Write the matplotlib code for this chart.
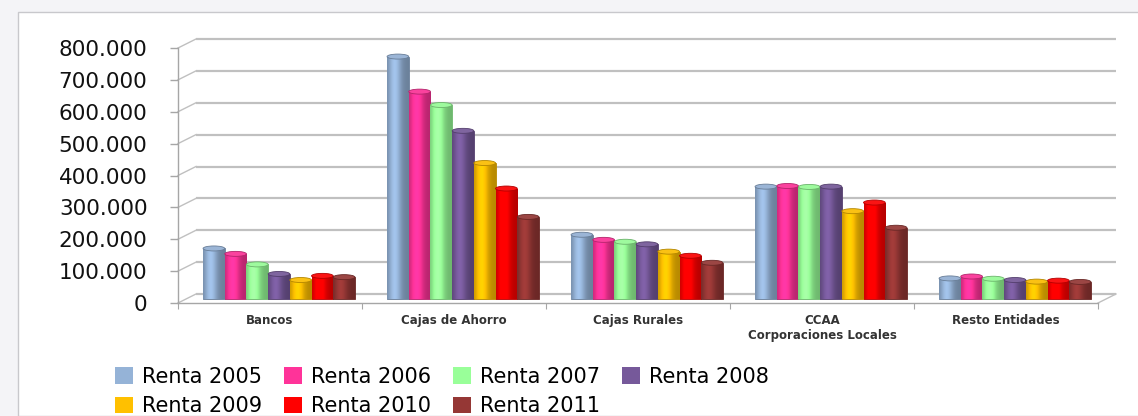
import numpy as np
import matplotlib
matplotlib.use("Agg")
import matplotlib.pyplot as plt
from matplotlib.patches import Ellipse, Patch, Rectangle
from matplotlib.colors import to_rgb

# data
categories = ["Bancos", "Cajas de Ahorro", "Cajas Rurales",
              "CCAA\nCorporaciones Locales", "Resto Entidades"]
series_names = ["Renta 2005", "Renta 2006", "Renta 2007", "Renta 2008",
                "Renta 2009", "Renta 2010", "Renta 2011"]
renta_2005 = [157000, 759000, 200000, 351000, 63000]
renta_2006 = [140000, 649000, 184000, 353000, 69000]
renta_2007 = [107000, 607000, 178000, 350000, 62000]
renta_2008 = [77000, 526000, 170000, 351000, 58000]
renta_2009 = [58000, 425000, 147000, 274000, 53000]
renta_2010 = [71000, 345000, 134000, 301000, 56000]
renta_2011 = [67000, 256000, 112000, 222000, 52000]
y_ticks = [0, 100000, 200000, 300000, 400000, 500000, 600000, 700000, 800000]
y_tick_labels = ["0", "100.000", "200.000", "300.000", "400.000",
                 "500.000", "600.000", "700.000", "800.000"]

series = [renta_2005, renta_2006, renta_2007, renta_2008,
          renta_2009, renta_2010, renta_2011]
colors = ["#95B3D7", "#FF3399", "#99FF99", "#76599A",
          "#FFC000", "#FF0000", "#953735"]

W, H = 1138, 416
fig = plt.figure(figsize=(W / 100, H / 100), dpi=100)
fig.patch.set_facecolor("#f4f4f7")
# white chart area with a thin frame
fig.patches.append(Rectangle((18 / W, 0), 1.2, (H - 12) / H, transform=fig.transFigure,
                             facecolor="white", edgecolor="#c8c8cc", lw=1.0, zorder=-1))

# front plane of the plot
ax = fig.add_axes([178 / W, (H - 303) / H, 920 / W, 255 / H])
ax.set_zorder(1)
ax.set_facecolor("none")
ymax = 800000
n_cat = len(categories)

# depth of the pseudo 3D box, in data units
DX = 18 / 184
DY = 9 * ymax / 255

grid_c = "#c0c0c0"
# back wall gridlines + side wall diagonals
for v in y_ticks:
    ax.plot([DX, n_cat + DX], [v + DY, v + DY], color=grid_c, lw=1.6,
            clip_on=False, zorder=1, solid_capstyle="butt")
    ax.plot([0, DX], [v, v + DY], color=grid_c, lw=1.0, clip_on=False, zorder=1)
# right floor edge
ax.plot([n_cat, n_cat + DX], [0, DY], color=grid_c, lw=1.0, clip_on=False, zorder=1)

# bars (cylinder look)
bw = 21.7 / 184
x = np.arange(n_cat)
for j, (vals, c) in enumerate(zip(series, colors)):
    xs = x + 0.5 + (j - 3) * bw + DX / 2
    rgb = np.array(to_rgb(c))
    dark = tuple(rgb * 0.7)
    bars = ax.bar(xs, vals, width=bw, bottom=DY / 2, color=c, edgecolor=dark,
                  linewidth=0.6, zorder=3)
    t = np.linspace(0, 1, 40)
    shade = 0.72 + 0.38 * np.exp(-((t - 0.35) / 0.3) ** 2)
    grad = np.clip(rgb[None, :] * shade[:, None], 0, 1)[None, :, :]
    for b, xc, v in zip(bars, xs, vals):
        im = ax.imshow(grad, extent=[xc - bw / 2, xc + bw / 2, DY / 2, DY / 2 + v],
                       aspect="auto", zorder=3.5, interpolation="bilinear")
        im.set_clip_path(b)
        cap = Ellipse((xc, DY / 2 + v), width=bw, height=5 * ymax / 255,
                      facecolor=tuple(np.clip(rgb * 0.9 + 0.08, 0, 1)),
                      edgecolor=dark, lw=0.6, zorder=4)
        ax.add_patch(cap)

ax.set_xlim(0, n_cat)
ax.set_ylim(0, ymax)

for s in ["top", "right"]:
    ax.spines[s].set_visible(False)
for s in ["left", "bottom"]:
    ax.spines[s].set_color("#a6a6a6")
    ax.spines[s].set_linewidth(1.0)

ax.set_yticks(y_ticks)
ax.set_yticklabels(y_tick_labels)
ax.tick_params(axis="y", direction="out", length=5.5, width=1.0, color="#a6a6a6",
               pad=16.5, labelsize=15.5, labelcolor="#111111")
for lbl in ax.get_yticklabels():
    lbl.set_fontweight("medium")

ax.set_xticks(np.arange(n_cat + 1))
ax.set_xticklabels([])
ax.tick_params(axis="x", which="major", direction="out", length=4, color="#a6a6a6")
ax.set_xticks(x + 0.5, minor=True)
ax.set_xticklabels(categories, minor=True, fontsize=8.5, fontweight="bold",
                   color="#333333")
ax.tick_params(axis="x", which="minor", length=0, pad=8)

# legend, row-major order in 4 columns
handles = [Patch(facecolor=c, edgecolor="none") for c in colors]
order = [0, 4, 1, 5, 2, 6, 3]
fig.legend([handles[i] for i in order], [series_names[i] for i in order],
           loc="upper left", bbox_to_anchor=(115 / W, (H - 367) / H), ncol=4,
           frameon=False, fontsize=15, handlelength=0.85, handleheight=0.85,
           handletextpad=0.45, columnspacing=1.05, labelspacing=0.45,
           borderaxespad=0, borderpad=0)

fig.savefig("out.png", dpi=100, facecolor=fig.get_facecolor())
